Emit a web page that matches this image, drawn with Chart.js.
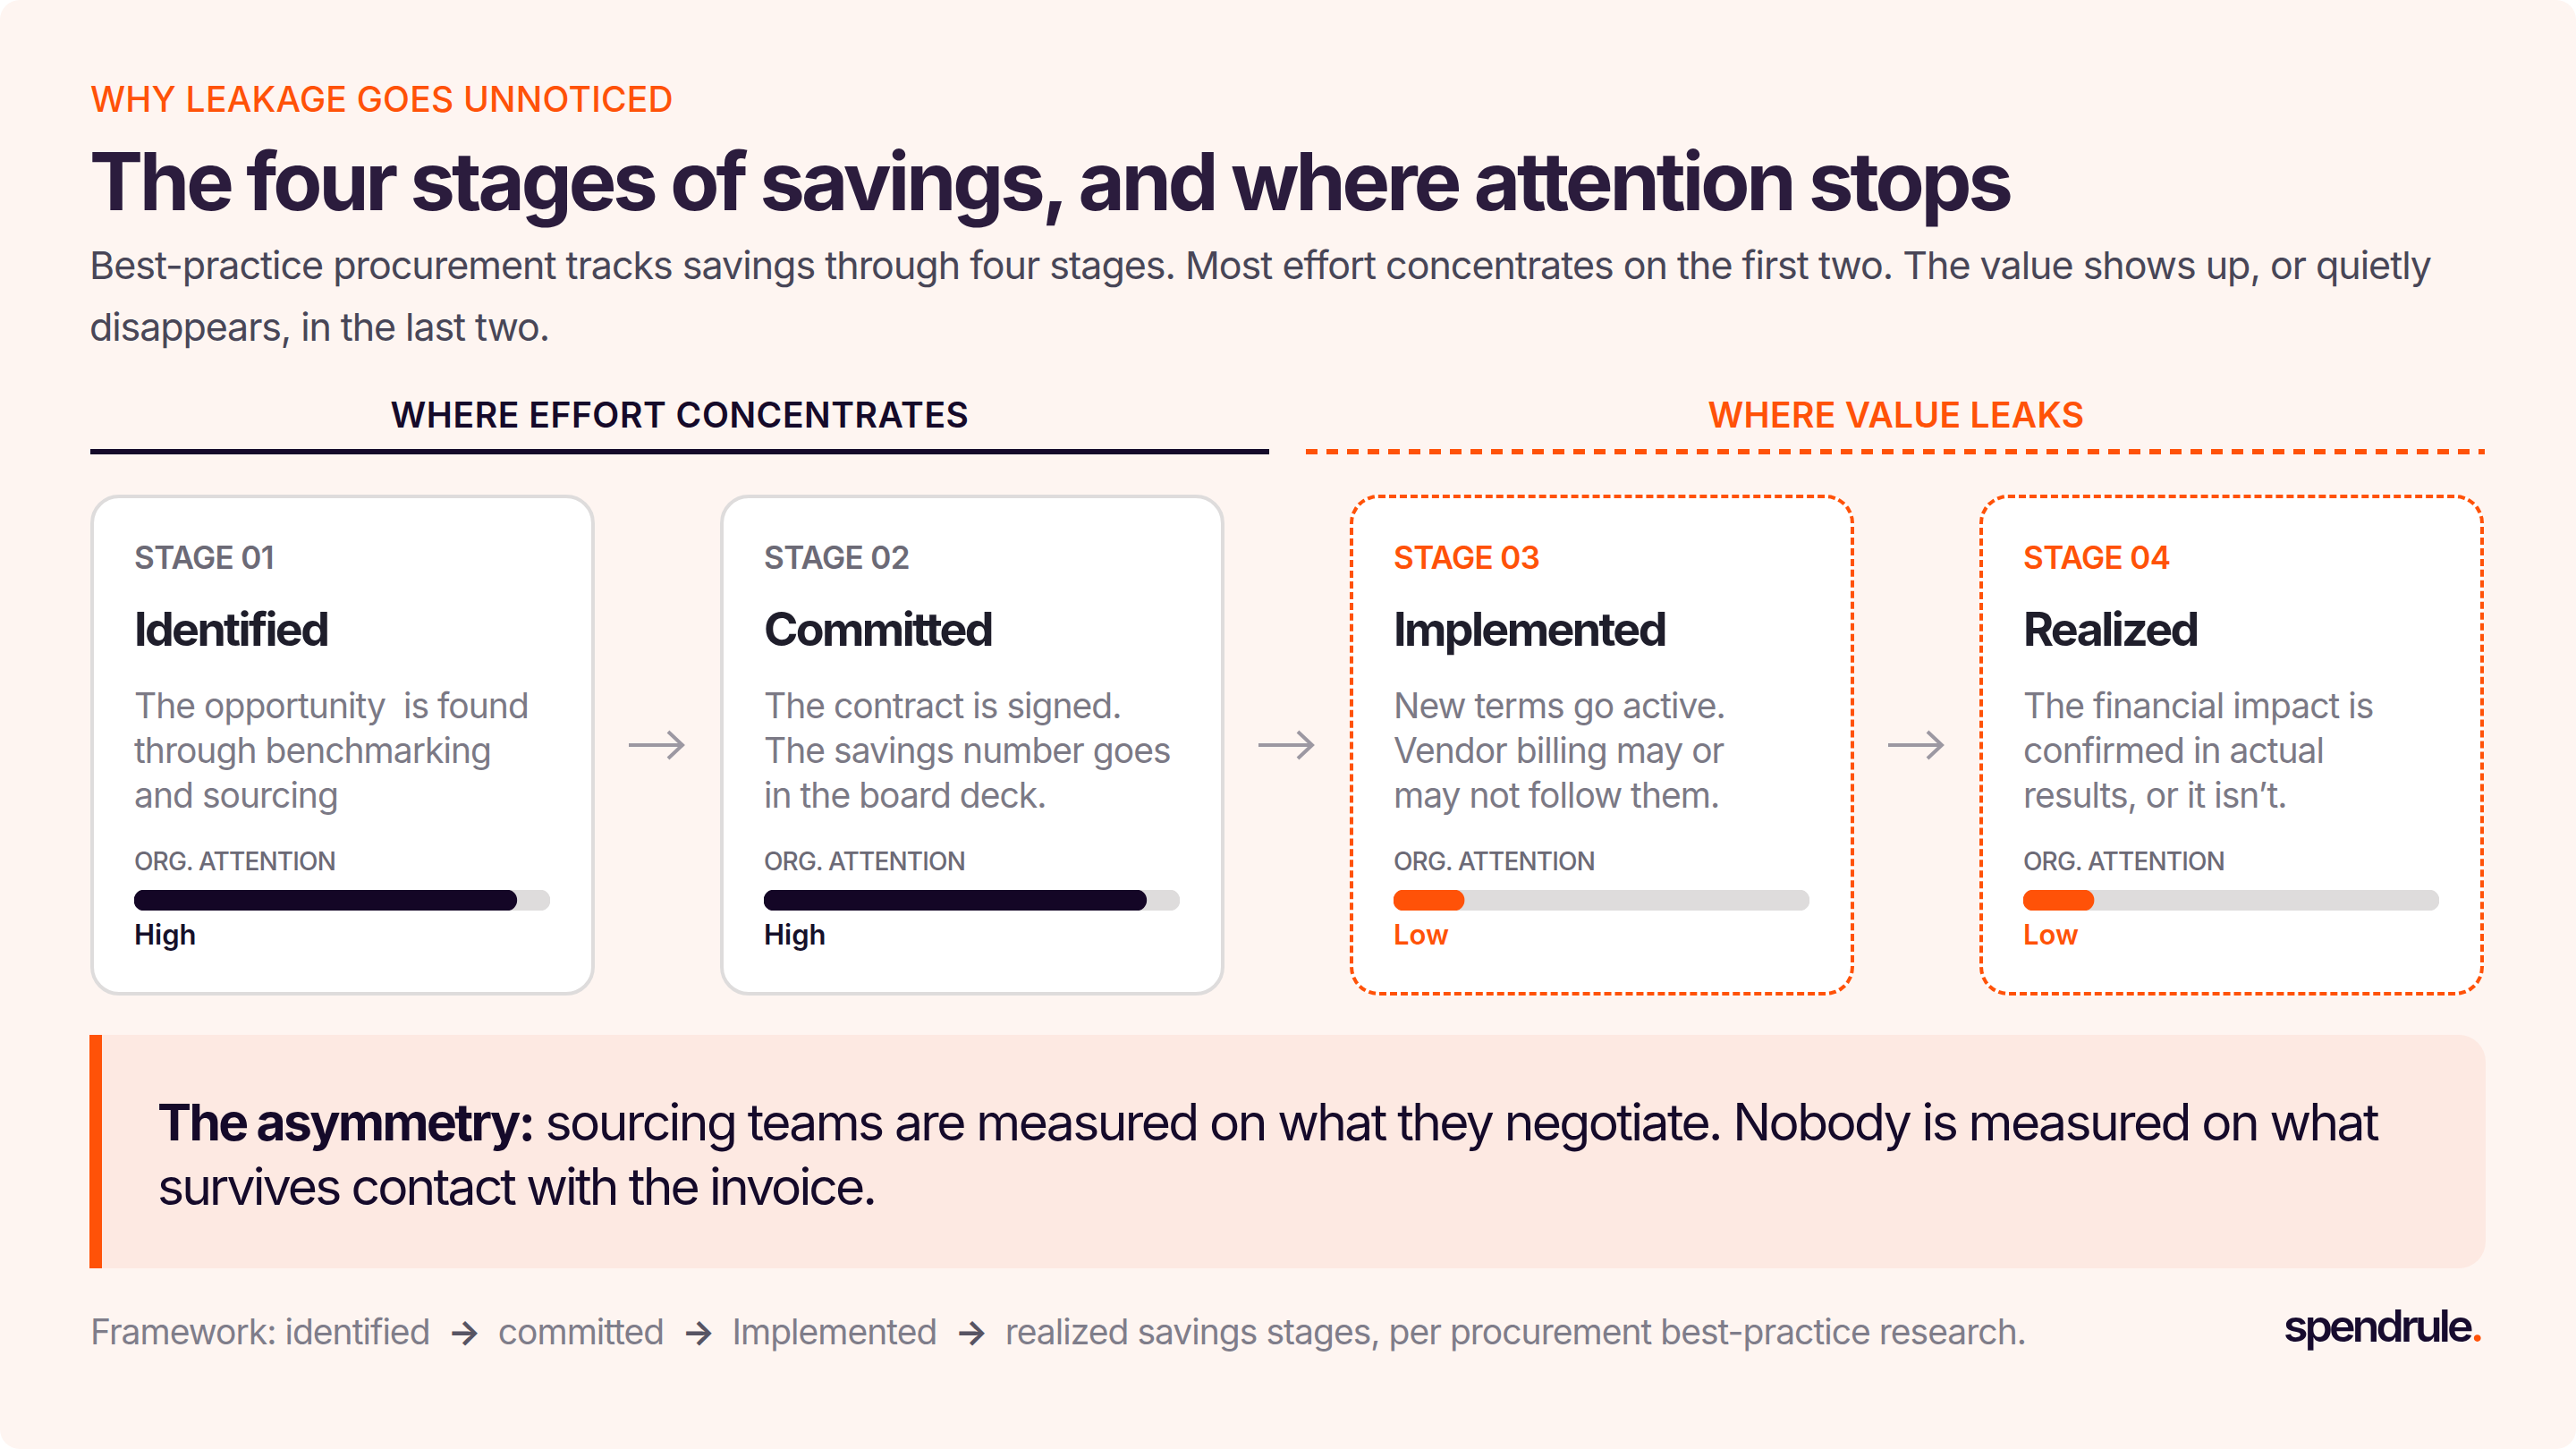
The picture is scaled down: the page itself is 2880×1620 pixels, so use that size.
<!DOCTYPE html>
<html>
<head>
<meta charset="utf-8">
<script src="https://cdn.jsdelivr.net/npm/chart.js@4.4.1/dist/chart.umd.min.js"></script>
<style>
  html, body { margin: 0; padding: 0; background: #ffffff; }
  body { width: 2880px; height: 1620px; overflow: hidden; font-family: Inter, "Noto Sans", sans-serif; }
  #frame { position: absolute; left: 0; top: 0; width: 2880px; height: 1620px; background: #fef5f1; border-radius: 22px; }
  .t { position: absolute; white-space: nowrap; line-height: 1; }
  .kicker { left: 101px; top: 91px; font-size: 39px; font-weight: 500; color: #ff5208; }
  .title { left: 100px; top: 158px; font-size: 90px; font-weight: 700; color: #2b1c3d; }
  .sub { left: 100px; font-size: 43px; font-weight: 400; color: #484657; }
  .head { top: 444px; font-size: 39px; font-weight: 600; transform: translateX(-50%); }
  .rule { position: absolute; top: 502px; height: 6px; }
  .card { position: absolute; top: 553px; width: 556px; height: 552px; background: #ffffff; border: 4px solid #dedcdc; border-radius: 32px; }
  .card.leak { border: 4px dashed #ff5208; }
  .stage { left: 45px; top: 49px; font-size: 35px; font-weight: 600; color: #6c6a76; }
  .name { left: 45px; top: 121px; font-size: 52px; font-weight: 700; color: #1f1e2b; }
  .desc { left: 45px; font-size: 39px; font-weight: 400; color: #7b7985; }
  .org { left: 45px; top: 392px; font-size: 28px; font-weight: 500; color: #6c6a76; }
  .bar { position: absolute; left: 45px; top: 438px; width: 465px; height: 23px; }
  .level { left: 45px; top: 472px; font-size: 31px; font-weight: 600; }
  .arrow { position: absolute; top: 816px; width: 63px; height: 34px; }
  #callout { position: absolute; left: 100px; top: 1157px; width: 2665px; height: 261px; background: #fde9e2; border-left: 14px solid #ff5208; border-radius: 0 30px 30px 0; }
  .call { left: 176px; font-size: 57px; font-weight: 400; color: #150a2a; }
  .call b { font-weight: 700; }
  .foot { left: 101px; top: 1469px; font-size: 39px; font-weight: 400; color: #7f7d8a; }
  .foot span { color: #575463; font-weight: 700; }
  .logo { right: 106px; top: 1457px; font-size: 50px; font-weight: 600; color: #170b2e; }
  .logo span { color: #ff5208; }
</style>
</head>
<body>
<div id="frame">
  <div class="t kicker" data-fit="652">WHY LEAKAGE GOES UNNOTICED</div>
  <div class="t title" data-fit="2147">The four stages of savings, and where attention stops</div>
  <div class="t sub" style="top:275px" data-fit="2618">Best-practice procurement tracks savings through four stages. Most effort concentrates on the first two. The value shows up, or quietly</div>
  <div class="t sub" style="top:344px" data-fit="514">disappears, in the last two.</div>

  <div class="t head" style="left:760px;color:#150a2a" data-fit="647">WHERE EFFORT CONCENTRATES</div>
  <div class="t head" style="left:2120px;color:#ff5208" data-fit="421">WHERE VALUE LEAKS</div>
  <div class="rule" style="left:101px;width:1318px;background:#150a2a"></div>
  <div class="rule" style="left:1460px;width:1318px;background:repeating-linear-gradient(90deg,#ff5208 0 13px,transparent 13px 23px)"></div>

  <div id="cards"></div>

  <div id="callout"></div>
  <div class="t call" style="top:1226px" data-fit="2482"><b>The asymmetry:</b> sourcing teams are measured on what they negotiate. Nobody is measured on what</div>
  <div class="t call" style="top:1298px" data-fit="802">survives contact with the invoice.</div>

  <div class="t foot" data-fit="2164">Framework: identified &nbsp;<span>→</span>&nbsp; committed &nbsp;<span>→</span>&nbsp; Implemented &nbsp;<span>→</span>&nbsp; realized savings stages, per procurement best-practice research.</div>
  <div class="t logo" data-fit="221">spendrule<span>.</span></div>
</div>

<script>
const stageLabels = ['STAGE 01', 'STAGE 02', 'STAGE 03', 'STAGE 04'];
const stageNames = ['Identified', 'Committed', 'Implemented', 'Realized'];
const stageText = [
  ['The opportunity\u00a0 is found', 'through benchmarking', 'and sourcing'],
  ['The contract is signed.', 'The savings number goes', 'in the board deck.'],
  ['New terms go active.', 'Vendor billing may or', 'may not follow them.'],
  ['The financial impact is', 'confirmed in actual', 'results, or it isn\u2019t.']
];
const attentionValues = [92, 92, 17, 17];
const attentionLevels = ['High', 'High', 'Low', 'Low'];
const leakStages = [false, false, true, true];
const attentionMax = 100;

const ORANGE = '#ff5208';
const DARK = '#140626';
const TRACK = '#dedcdc';

function fitWidth(el, target) {
  el.style.letterSpacing = '0px';
  const w = el.getBoundingClientRect().width;
  const n = el.textContent.length;
  el.style.letterSpacing = ((target - w) / n) + 'px';
}

function buildCards() {
  const holder = document.getElementById('cards');
  stageNames.forEach((name, i) => {
    const left = 101 + i * 704;
    const leak = leakStages[i];
    const card = document.createElement('div');
    card.className = 'card' + (leak ? ' leak' : '');
    card.style.left = left + 'px';

    let html = `<div class="t stage" style="color:${leak ? ORANGE : '#6c6a76'}">${stageLabels[i]}</div>`;
    html += `<div class="t name">${name}</div>`;
    stageText[i].forEach((line, j) => {
      html += `<div class="t desc" style="top:${212 + j * 50}px">${line}</div>`;
    });
    html += `<div class="t org">ORG. ATTENTION</div>`;
    html += `<div class="bar"><canvas id="bar${i}" width="465" height="23"></canvas></div>`;
    html += `<div class="t level" style="color:${leak ? ORANGE : '#15102a'}">${attentionLevels[i]}</div>`;
    card.innerHTML = html;
    holder.appendChild(card);

    if (i < stageNames.length - 1) {
      const arrow = document.createElementNS('http://www.w3.org/2000/svg', 'svg');
      arrow.setAttribute('class', 'arrow');
      arrow.setAttribute('viewBox', '0 0 63 34');
      arrow.style.left = (left + 602) + 'px';
      arrow.innerHTML = '<g stroke="#9c98a2" stroke-width="4" fill="none"><line x1="0" y1="17" x2="60" y2="17"/><polyline points="44,2 60,17 44,32"/></g>';
      holder.appendChild(arrow);
    }
  });
}

function drawBar(i) {
  const fill = leakStages[i] ? ORANGE : DARK;
  new Chart(document.getElementById('bar' + i), {
    type: 'bar',
    data: {
      labels: [stageNames[i]],
      datasets: [
        { data: [attentionValues[i]], backgroundColor: fill, borderRadius: 12, borderSkipped: false,
          grouped: false, barPercentage: 1, categoryPercentage: 1 },
        { data: [attentionMax], backgroundColor: TRACK, borderRadius: 12, borderSkipped: false,
          grouped: false, barPercentage: 1, categoryPercentage: 1 }
      ]
    },
    options: {
      indexAxis: 'y',
      responsive: false,
      animation: false,
      devicePixelRatio: 1,
      events: [],
      layout: { padding: 0 },
      plugins: { legend: { display: false }, tooltip: { enabled: false } },
      scales: {
        x: { display: false, min: 0, max: attentionMax },
        y: { display: false }
      }
    }
  });
}

buildCards();

document.fonts.ready.then(() => {
  document.querySelectorAll('[data-fit]').forEach(el => fitWidth(el, +el.dataset.fit));
  // one spacing for all card copy, taken from a measured line
  const sample = document.querySelectorAll('.desc')[1];
  fitWidth(sample, 399);
  document.querySelectorAll('.desc').forEach(el => el.style.letterSpacing = sample.style.letterSpacing);
  const nm = document.querySelectorAll('.name')[1];
  fitWidth(nm, 255);
  document.querySelectorAll('.name').forEach(el => el.style.letterSpacing = nm.style.letterSpacing);
  const st = document.querySelectorAll('.stage')[0];
  fitWidth(st, 156);
  document.querySelectorAll('.stage').forEach(el => el.style.letterSpacing = st.style.letterSpacing);
  document.querySelectorAll('.org').forEach(el => fitWidth(el, 225));
  stageNames.forEach((n, i) => drawBar(i));
});
</script>
</body>
</html>
